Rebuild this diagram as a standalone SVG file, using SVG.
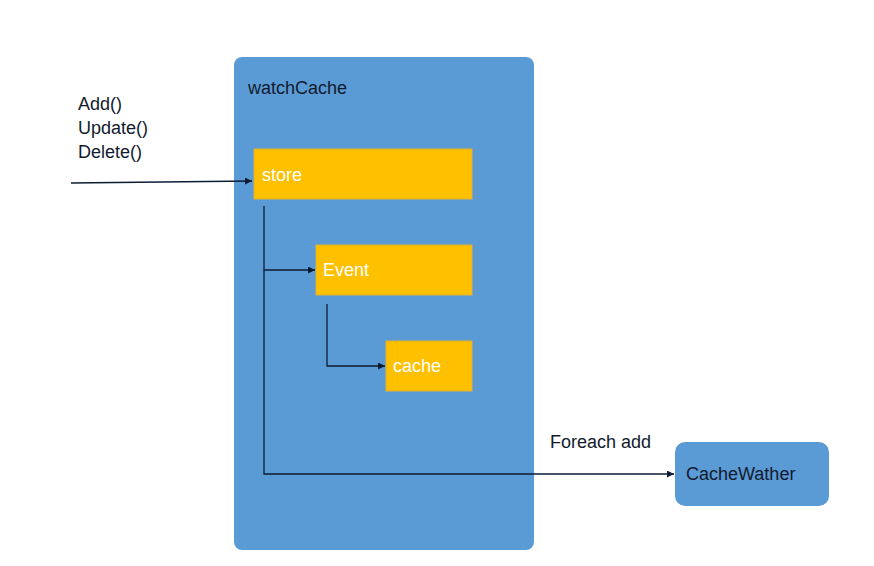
<svg xmlns="http://www.w3.org/2000/svg" width="874" height="566" viewBox="0 0 874 566">
  <defs>
    <marker id="arr" viewBox="0 0 10 10" refX="10" refY="5" markerWidth="7" markerHeight="7" markerUnits="userSpaceOnUse" orient="auto">
      <path d="M0,0 L10,5 L0,10 z" fill="#0d1b33"/>
    </marker>
    <style>
      .t { font-family: "Liberation Sans", Arial, sans-serif; font-size: 18px; }
      .dark { fill: #111a2e; }
      .white { fill: #ffffff; }
      .box { fill: #FFC000; stroke: #E0B030; stroke-width: 1; }
      .blue { fill: #5B9BD5; }
      .ln { fill: none; stroke: #0d1b33; stroke-width: 1.3; }
    </style>
  </defs>
  <rect width="874" height="566" fill="#ffffff"/>
  <g id="inputs">
    <text class="t dark" x="78" y="110">Add()</text>
    <text class="t dark" x="78" y="134">Update()</text>
    <text class="t dark" x="78" y="158">Delete()</text>
  </g>
  <g id="watchCache">
    <rect class="blue" x="234" y="57" width="300" height="493" rx="8"/>
    <text class="t dark" x="248" y="94">watchCache</text>
  </g>
  <g id="store">
    <rect class="box" x="254" y="149" width="218" height="50"/>
    <text class="t white" x="262" y="181">store</text>
  </g>
  <g id="event">
    <rect class="box" x="316" y="245" width="156" height="50"/>
    <text class="t white" x="323" y="276">Event</text>
  </g>
  <g id="cache">
    <rect class="box" x="386" y="341" width="86" height="50"/>
    <text class="t white" x="393" y="372">cache</text>
  </g>
  <g id="cacheWather">
    <rect class="blue" x="675" y="442" width="154" height="64" rx="10"/>
    <text class="t dark" x="686" y="480">CacheWather</text>
  </g>
  <g id="connectors">
    <path class="ln" d="M71,183 L252,181" marker-end="url(#arr)"/>
    <path class="ln" d="M264,206 L264,270 L315,270" marker-end="url(#arr)"/>
    <path class="ln" d="M264,270 L264,474 L674,474" marker-end="url(#arr)"/>
    <path class="ln" d="M327,304 L327,366 L385,366" marker-end="url(#arr)"/>
    <text class="t dark" x="550" y="448">Foreach add</text>
  </g>
</svg>
